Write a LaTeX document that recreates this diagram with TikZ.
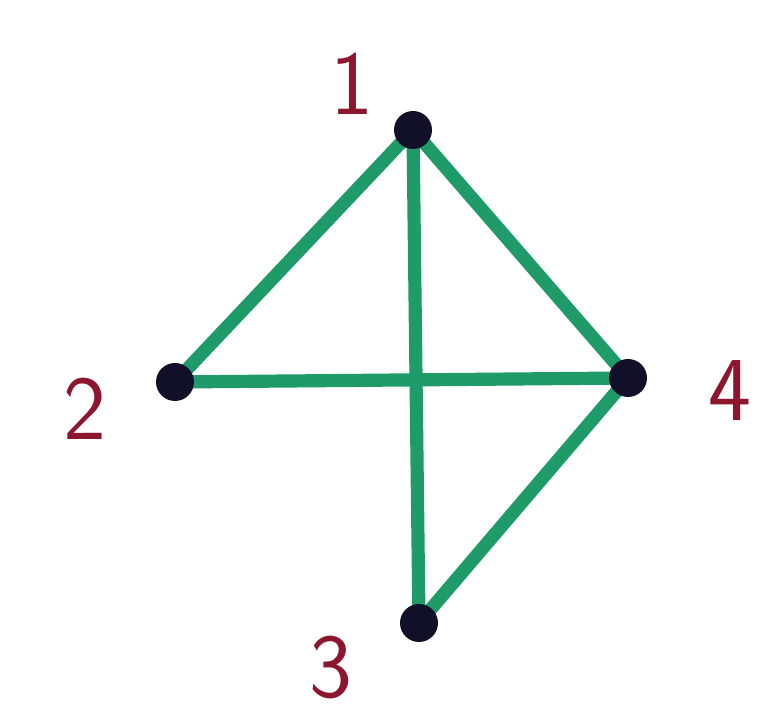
\documentclass[tikz,border=0pt]{standalone}
\usepackage{tikz}
\usetikzlibrary{positioning,backgrounds}
\definecolor{graphGreen}{RGB}{30, 155, 105}
\definecolor{graphDot}{RGB}{18, 16, 40}
\definecolor{graphRed}{RGB}{140, 22, 45}

\begin{document}
\begin{tikzpicture}[
  vertex/.style={
    circle,
    fill=graphDot,
    inner sep=0pt,
    minimum size=0.76cm
  },
  vlabel/.style={
    text=graphRed,
    inner sep=1pt,
    font=\sffamily\fontsize{52}{52}\selectfont
  },
  edge/.style={graphGreen,line width=7.5pt,line cap=round}
]
  \useasboundingbox (0,0) rectangle (15.38,14.38);
  % vertices
  \node[vertex] (v1) at (8.26,11.78) {};
  \node[vertex] (v2) at (3.50,6.74) {};
  \node[vertex] (v4) at (12.56,6.82) {};
  \node[vertex] (v3) at (8.38,1.92) {};
  % labels
  \node[vlabel] (l1) at (7.04,12.70) {1};
  \node[vlabel] (l2) at (1.70,6.20) {2};
  \node[vlabel] (l4) at (14.60,6.56) {4};
  \node[vlabel] (l3) at (6.62,1.02) {3};
  % edges
  \begin{scope}[on background layer]
    \draw[edge] (v1.center) -- (v2.center);
    \draw[edge] (v1.center) -- (v3.center);
    \draw[edge] (v1.center) -- (v4.center);
    \draw[edge] (v2.center) -- (v4.center);
    \draw[edge] (v3.center) -- (v4.center);
  \end{scope}
\end{tikzpicture}
\end{document}
